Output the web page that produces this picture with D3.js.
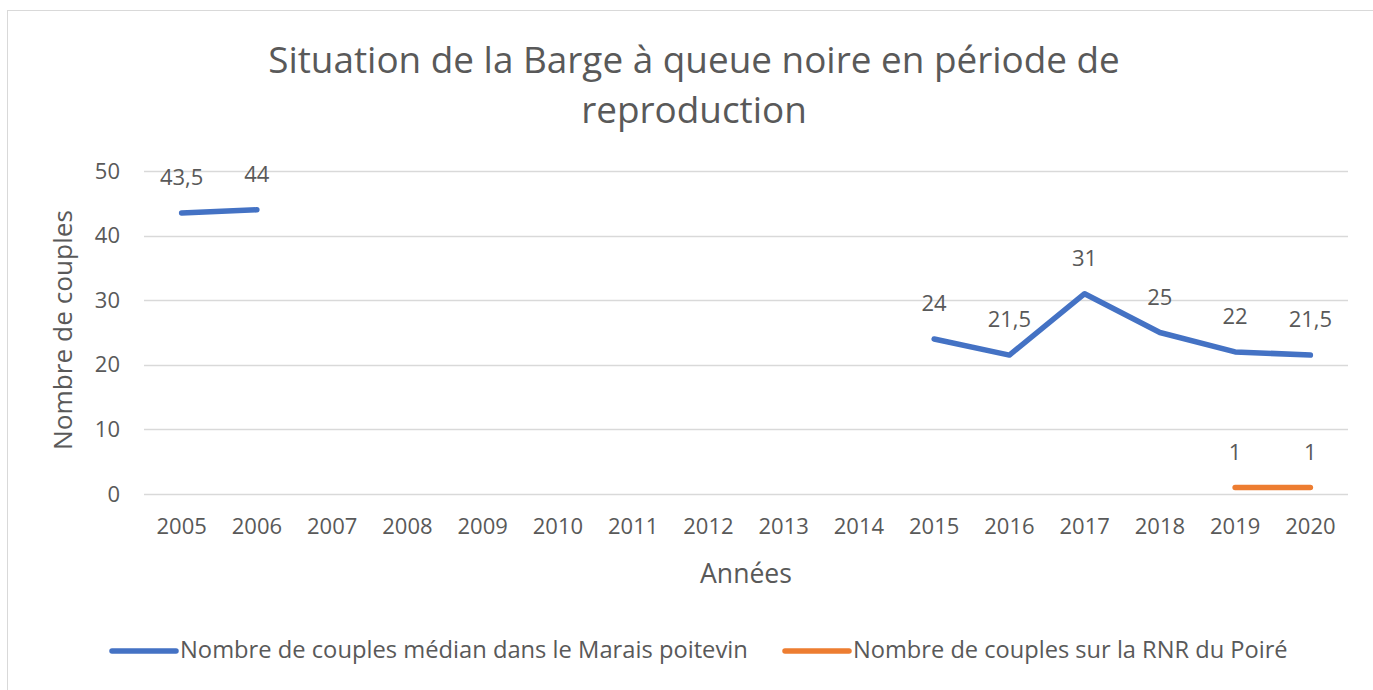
<!DOCTYPE html>
<meta charset="utf-8">
<script src="https://d3js.org/d3.v7.min.js"></script>
<style>
  body { margin: 0; background: #fff; }
  text { font-family: "Open Sans", sans-serif; fill: #595959; }
</style>
<div id="chart"></div>
<script>
const years = ["2005","2006","2007","2008","2009","2010","2011","2012","2013","2014","2015","2016","2017","2018","2019","2020"];
const marais = [43.5, 44, null, null, null, null, null, null, null, null, 24, 21.5, 31, 25, 22, 21.5];
const rnr = [null, null, null, null, null, null, null, null, null, null, null, null, null, null, 1, 1];
const yTicks = [0, 10, 20, 30, 40, 50];
const seriesNames = ["Nombre de couples médian dans le Marais poitevin", "Nombre de couples sur la RNR du Poiré"];
const colors = ["#4472C4", "#ED7D31"];

const width = 1373, height = 690;
const margin = {top: 171, right: 25, bottom: 196, left: 144};

const svg = d3.select("#chart").append("svg")
    .attr("width", width)
    .attr("height", height);

// outer frame
svg.append("rect")
    .attr("x", 7.5).attr("y", 10.5)
    .attr("width", width + 20).attr("height", height + 20)
    .style("fill", "none").style("stroke", "#d9d9d9").style("stroke-width", 1);

const x = d3.scaleBand().domain(years).range([margin.left, width - margin.right]);
const y = d3.scaleLinear().domain([0, 50]).range([height - margin.bottom, margin.top]);

// fit font size so that a text gets a given width
function fit(sel, w) {
  const base = parseFloat(sel.style("font-size"));
  const len = sel.node().getComputedTextLength();
  sel.style("font-size", (base * w / len) + "px");
  return sel;
}

// title
const t1 = svg.append("text").attr("x", 694).attr("y", 73).attr("text-anchor", "middle")
    .style("font-size", "30px").text("Situation de la Barge à queue noire en période de");
fit(t1, 852);
const t2 = svg.append("text").attr("x", 694).attr("y", 123).attr("text-anchor", "middle")
    .style("font-size", t1.style("font-size")).text("reproduction");

// gridlines
svg.append("g")
  .selectAll("line")
  .data(yTicks)
  .join("line")
    .attr("x1", margin.left).attr("x2", width - margin.right)
    .attr("y1", d => Math.round(y(d)) + 0.5).attr("y2", d => Math.round(y(d)) + 0.5)
    .style("stroke", "#d9d9d9").style("stroke-width", 1.3);

// y axis labels
const yAxis = svg.append("g")
    .attr("transform", `translate(${margin.left}, 0)`)
    .call(d3.axisLeft(y).tickValues(yTicks).tickSize(0).tickPadding(24));
yAxis.select(".domain").remove();
yAxis.selectAll("text").style("font-size", "22px").style("font-family", "Open Sans").style("fill", "#595959");

// x axis labels
const xAxis = svg.append("g")
    .attr("transform", `translate(0, ${height - margin.bottom})`)
    .call(d3.axisBottom(x).tickSize(0).tickPadding(24));
xAxis.select(".domain").remove();
xAxis.selectAll("text").style("font-size", "22px").style("font-family", "Open Sans").style("fill", "#595959");

// axis titles
const yt = svg.append("text")
    .attr("transform", "translate(72, 330) rotate(-90)")
    .attr("text-anchor", "middle")
    .style("font-size", "22px").text("Nombre de couples");
fit(yt, 240);
const xt = svg.append("text")
    .attr("x", 746).attr("y", 583)
    .attr("text-anchor", "middle")
    .style("font-size", "22px").text("Années");
fit(xt, 92);

// lines
const line = d3.line()
    .defined(d => d.v !== null)
    .x(d => x(d.year) + x.bandwidth() / 2)
    .y(d => y(d.v));

[marais, rnr].forEach((s, i) => {
  const pts = years.map((yr, j) => ({year: yr, v: s[j]}));
  svg.append("path")
      .datum(pts)
      .attr("d", line)
      .style("fill", "none")
      .style("stroke", colors[i])
      .style("stroke-width", 5.5)
      .style("stroke-linecap", "round")
      .style("stroke-linejoin", "round");

  svg.append("g")
    .selectAll("text")
    .data(pts.filter(d => d.v !== null))
    .join("text")
      .attr("x", d => x(d.year) + x.bandwidth() / 2)
      .attr("y", d => y(d.v) - 28)
      .attr("text-anchor", "middle")
      .style("font-size", "22px")
      .text(d => String(d.v).replace(".", ","));
});

// legend
const legendX = [112, 785];
const legendW = [568, 435];
seriesNames.forEach((n, i) => {
  svg.append("line")
      .attr("x1", legendX[i]).attr("x2", legendX[i] + 64)
      .attr("y1", 651).attr("y2", 651)
      .style("stroke", colors[i]).style("stroke-width", 5.5).style("stroke-linecap", "round");
  const lt = svg.append("text")
      .attr("x", legendX[i] + 68).attr("y", 658)
      .style("font-size", "19px").text(n);
  fit(lt, legendW[i]);
});
</script>
